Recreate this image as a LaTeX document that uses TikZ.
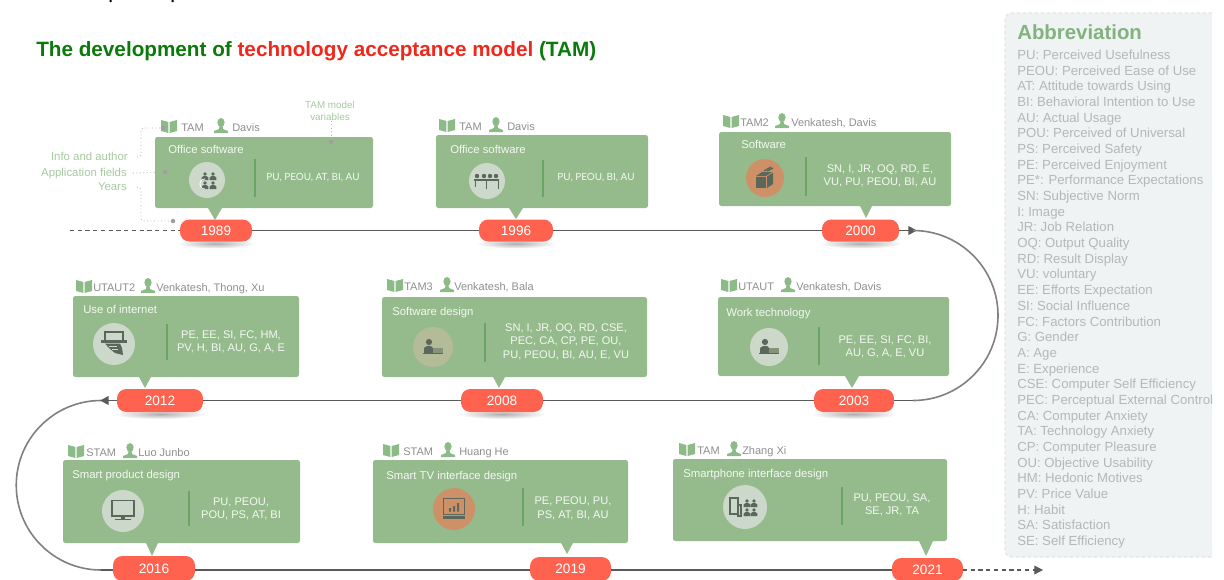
\documentclass[tikz,border=0pt]{standalone}
\usepackage{fontspec}
\setmainfont{Liberation Sans}
\newfontfamily\latofont{Lato}
\usetikzlibrary{arrows.meta}
\definecolor{cardg}{HTML}{95BB8D}
\definecolor{divg}{HTML}{6BA564}
\definecolor{circg}{HTML}{CBD8CA}
\definecolor{circo}{HTML}{CE9167}
\definecolor{circt}{HTML}{B4BB98}
\definecolor{iconc}{HTML}{5C675B}
\definecolor{pillr}{HTML}{FF634F}
\definecolor{headg}{HTML}{8F8F8F}
\definecolor{bookg}{HTML}{8DBB88}
\definecolor{annog}{HTML}{A6CAA0}
\definecolor{abbrg}{HTML}{B7B7B7}
\definecolor{abbrh}{HTML}{84B27F}
\definecolor{panelc}{HTML}{EFF3F3}
\definecolor{paneld}{HTML}{E0E6E4}
\definecolor{cardt}{HTML}{F3F8F1}
\definecolor{titleg}{HTML}{0B7A0B}
\definecolor{titler}{HTML}{F0281C}
\definecolor{linec}{HTML}{5A5A5A}
\definecolor{arcc}{HTML}{808080}
\newcommand\smallp[2]{\fill[iconc] (#1,#2) circle[radius=1.9]; \fill[iconc] (#1-3.4,#2+6) -- (#1-3.4,#2+3.6) -- (#1-1.4,#2+2) -- (#1+1.4,#2+2) -- (#1+3.4,#2+3.6) -- (#1+3.4,#2+6) -- cycle;}
\tikzset{
  x=0.75pt,y=-0.75pt,
  cardbox/.style={draw=none,fill=cardg,rounded corners=1.8pt,inner sep=0pt,outer sep=0pt},
  pill/.style={fill=pillr,rounded corners=7pt,inner sep=0pt,outer sep=0pt,text=white,font=\fontsize{10.2}{12}\selectfont},
  cardlabel/.style={text=cardt,inner sep=0pt,anchor=mid west,yshift=-0.7pt,font=\fontsize{8.5}{10}\selectfont},
  vars/.style={text=cardt,inner sep=0pt,align=center,anchor=center,yshift=-0.6pt,font=\fontsize{8.3}{10.4}\selectfont},
  varslato/.style={text=cardt,inner sep=0pt,align=center,anchor=center,yshift=-1.3pt,font=\latofont\fontsize{7.45}{10}\selectfont},
  hdrtext/.style={text=headg,inner sep=0pt,anchor=mid west,yshift=-0.4pt,font=\fontsize{8.25}{10}\selectfont},
  anno/.style={text=annog,inner sep=0pt,yshift=-0.4pt,font=\fontsize{8.55}{10}\selectfont},
  annoline/.style={draw=headg!70,line width=0.6pt,dotted},
  annodot/.style={fill=black!38,circle,inner sep=0pt,minimum size=3.4pt},
  tline/.style={draw=linec,line width=1.3pt},
  tarc/.style={draw=arcc,line width=1.2pt},
  tdash/.style={draw=linec,line width=0.95pt,dash pattern=on 3.2pt off 2.6pt},
  tip/.style={-{Stealth[length=6.5pt,width=6.5pt,inset=0pt]}},
  divider/.style={draw=divg,line width=1pt},
  shad/.style={inner color=black!32,outer color=white},
  abbr/.style={text=abbrg,inner sep=0pt,anchor=mid west,yshift=-0.7pt,font=\fontsize{9.9}{12}\selectfont},
  bookicon/.pic={\fill[bookg] (-8,-6) -- (-0.6,-4) -- (-0.6,7) -- (-8,5) -- cycle; \fill[bookg] (8,-6) -- (0.6,-4) -- (0.6,7) -- (8,5) -- cycle;},
  personicon/.pic={\fill[bookg] (0,-3.5) ellipse[x radius=3.6,y radius=4.5]; \fill[bookg] (-7,7) -- (-7,5) -- (-2,3) -- (-1.5,0) -- (1.5,0) -- (2,3) -- (7,5) -- (7,7) -- cycle;},
  icomeet/.pic={\smallp{-2}{-6}\smallp{6}{-6}\smallp{-2}{3}\smallp{6}{3}\draw[white,line width=0.6pt] (-2,-1) .. controls (-9,-1) and (-9,9) .. (-2,9);},
  icotable/.pic={\fill[iconc] (-10,-5) circle[radius=2.2] (-3,-5) circle[radius=2.2] (3,-5) circle[radius=2.2] (9,-5) circle[radius=2.2]; \fill[iconc] (-13,-2.5) rectangle (12,-0.5); \draw[iconc,line width=0.7pt] (-1,0) -- (-1,8) (11,0) -- (11,8) (-12,0) -- (-12,6);},
  icobox/.pic={\fill[iconc] (-9,-2) -- (-3,-6) -- (7,-6) -- (1,-2) -- cycle; \fill[iconc] (-9,-1) -- (1,-1) -- (1,10) -- (-9,10) -- cycle; \fill[iconc] (2,-1.5) -- (8,-5.5) -- (8,6) -- (2,10) -- cycle; \draw[iconc,line width=1pt] (-1,-7) -- (6,-11) (2,-7) -- (8,-10);},
  icodesk/.pic={\fill[iconc] (-4,-5) circle[radius=3.1]; \fill[iconc] (-9,6) -- (-9,1) -- (-6,-1) -- (-2,-1) -- (0,1) -- (0,6) -- cycle; \fill[iconc!50!circt] (0,1) rectangle (10,5.5); \fill[iconc] (-10,6) rectangle (10,7.2);},
  icohand/.pic={\draw[iconc,line width=0.8pt] (-9,-3) -- (-9,-12) -- (9,-12) -- (9,-3); \fill[iconc] (-13,-4) rectangle (13,-1.5); \fill[iconc] (-9,-0.5) -- (6,-0.5) -- (8,4) -- (9,11) -- (1,9) -- (-5,4) -- cycle; \fill[circg] (-5,1.5) rectangle (3,2.3);\fill[circg] (-2,4.5) rectangle (4,5.3);},
  icomon/.pic={\draw[iconc,line width=1.1pt] (-11,-10.5) rectangle (11,5); \fill[iconc] (-2,5) rectangle (2,8); \fill[iconc] (-8,8) rectangle (8,9.4);},
  icotv/.pic={\draw[iconc,line width=1.2pt] (-10.5,-10.5) rectangle (10.5,5.5); \fill[iconc] (-5,-1) rectangle (-3,2.5) (-1,-3) rectangle (1,2.5) (3,-6) rectangle (5,2.5); \fill[iconc] (-11,7) rectangle (11,9.5);},
  icophone/.pic={\draw[iconc,line width=0.9pt] (-15,-9) rectangle (-7,7); \draw[iconc,line width=0.9pt] (-6,-2) -- (-4,-2) -- (-4,9) -- (-8,9); \smallp{2}{-6}\smallp{9}{-6}\smallp{2}{3}\smallp{9}{3}}
}
\newcommand\cardbox[8]{\node[cardbox,anchor=north west,minimum width={(#4-#2)*0.75pt},minimum height={(#5-#3)*0.75pt}] (b#1) at (#2,#3) {};
  \node[cardlabel] (l#1) at (#7,#8) {#6};}
\newcommand\cardpoint[4]{\fill[cardg] (#1-#4,#3) -- (#1+#4,#3) -- (#1,#2) -- cycle;}
\newcommand\cardicon[6]{\node[circle,fill=#5,minimum size={2*#4*0.75pt},inner sep=0pt] (c#1) at (#2,#3) {}; \path (c#1.center) pic {#6};}
\newcommand\tamdiv[3]{\draw[divider] (#1,#2) -- (#1,#3);}
\newcommand\cardhead[8]{\path (#2,#3) pic {bookicon}; \node[hdrtext] (m#1) at (#5,#3+1) {#4}; \path (#6,#3) pic {personicon}; \node[hdrtext] (a#1) at (#8,#3+1) {#7};}
\newcommand\yearpill[6]{\shade[shad] ({(#2+#3)/2},#5+#6) ellipse[x radius={(#3-#2)/2+3},y radius=5]; \node[pill,minimum width={(#3-#2)*0.75pt},minimum height={(#5-#4)*0.75pt}] (p#1) at ({(#2+#3)/2},{(#4+#5)/2}) {#1};}
\begin{document}
\begin{tikzpicture}
\useasboundingbox (0,0) rectangle (1224,579);
\fill[white] (0,0) rectangle (1224,579);
% cut-off text at top
\fill[black] (109.5,0) rectangle (111.5,2.2) (171.5,0) rectangle (173.5,2.2);
% title
\node[inner sep=0pt,anchor=mid west,yshift=-3pt,font=\bfseries\fontsize{15.53}{18}\selectfont] (title) at (36,49) {\textcolor{titleg}{The development of }\textcolor{titler}{technology acceptance model }\textcolor{titleg}{(TAM)}};
% abbreviation panel
\draw[fill=panelc,draw=paneld,line width=0.8pt,dash pattern=on 2.5pt off 2pt,rounded corners=5pt] (1212,13) -- (1005,13) -- (1005,557) -- (1212,557);
\node[inner sep=0pt,anchor=mid west,yshift=-3pt,text=abbrh,font=\bfseries\fontsize{15.3}{18}\selectfont] (abbrtitle) at (1017,32) {Abbreviation};
\foreach \i/\t in {0/PU: Perceived Usefulness,1/PEOU: Perceived Ease of Use,2/AT: Attitude towards Using,3/BI: Behavioral Intention to Use,4/AU: Actual Usage,5/POU: Perceived of Universal,6/PS: Perceived Safety,7/PE: Perceived Enjoyment,8/PE*: Performance Expectations,9/SN: Subjective Norm,10/I: Image,11/JR: Job Relation,12/OQ: Output Quality,13/RD: Result Display,14/VU: voluntary,15/EE: Efforts Expectation,16/SI: Social Influence,17/FC: Factors Contribution,18/G: Gender,19/A: Age,20/E: Experience,21/CSE: Computer Self Efficiency,22/PEC: Perceptual External Control,23/CA: Computer Anxiety,24/TA: Technology Anxiety,25/CP: Computer Pleasure,26/OU: Objective Usability,27/HM: Hedonic Motives,28/PV: Price Value,29/H: Habit,30/SA: Satisfaction,31/SE: Self Efficiency}{
  \node[abbr] (abbr\i) at (1017,{55+\i*15.68}) {\t};
}
% pills
\yearpill{1989}{180}{252}{219.5}{241.5}{2}
\yearpill{1996}{479}{553}{219.5}{241.5}{2}
\yearpill{2000}{822}{899}{219.5}{241.5}{2}
\yearpill{2012}{117}{203}{389}{412}{2}
\yearpill{2008}{461}{543}{389}{412}{2}
\yearpill{2003}{814}{894}{389}{412}{2}
\node[pill,minimum width=61.5pt,minimum height=18.75pt] (p2016) at (154,568.5) {2016};
\node[pill,minimum width=60.75pt,minimum height=18pt] (p2019) at (570.5,569) {2019};
\node[pill,minimum width=53.25pt,minimum height=17.25pt] (p2021) at (927.5,569.5) {2021};
% timeline
\coordinate (start) at (70,230.5);
\coordinate (rtop) at (917,230.5);
\coordinate (rbot) at (913,400.5);
\coordinate (ltop) at (100,400.5);
\coordinate (lbot) at (101,570);
\coordinate (finish) at (1043,570);
\draw[tdash] (start) -- (p1989.west);
\draw[tline] (p1989.east) -- (p1996.west);
\draw[tline] (p1996.east) -- (p2000.west);
\draw[tline,tip] (p2000.east) -- (rtop);
\draw[tarc] (rbot) arc[start angle=90,end angle=-90,radius=85];
\draw[tline] (p2003.east) -- (rbot);
\draw[tline] (p2003.west) -- (p2008.east);
\draw[tline] (p2008.west) -- (p2012.east);
\draw[tarc] (lbot) arc[start angle=90,end angle=270,radius=84.75];
\draw[tline,tip] (p2012.west) -- (ltop);
\draw[tline] (lbot) -- (p2016.west |- lbot);
\draw[tline] (p2016.east |- lbot) -- (p2019.west |- lbot);
\draw[tline] (p2019.east |- lbot) -- (p2021.west |- lbot);
\draw[tdash,-{Stealth[length=6.5pt,width=6.5pt,inset=0pt]}] (p2021.east |- finish) -- (finish);
% 1989
\cardbox{1989}{155}{137}{373}{208}{Office software}{168}{149}
\cardpoint{215}{220}{208}{7}
\tamdiv{255}{159}{197}
\cardicon{1989}{207}{180}{18}{circg}{icomeet}
\node[varslato] (v1989) at (313,176) {PU, PEOU, AT, BI, AU};
\cardhead{1989}{169}{126}{TAM}{181}{221}{Davis}{232}
% 1996
\cardbox{1996}{436}{135}{648}{208}{Office software}{450}{149}
\cardpoint{516}{219}{208}{7}
\tamdiv{543}{160}{197}
\cardicon{1996}{487}{181}{18}{circg}{icotable}
\node[varslato] (v1996) at (596,176) {PU, PEOU, BI, AU};
\cardhead{1996}{447}{125}{TAM}{459}{496}{Davis}{507}
% 2000
\cardbox{2000}{719}{132}{951}{206}{Software}{741}{144}
\cardpoint{866}{218}{206}{6}
\tamdiv{806}{157}{196}
\cardicon{2000}{765}{178}{19}{circo}{icobox}
\node[vars] (v2000) at (880,175) {SN, I, JR, OQ, RD, E,\\VU, PU, PEOU, BI, AU};
\cardhead{2000}{731}{121}{TAM2}{740}{782}{Venkatesh, Davis}{791}
% 2003
\cardbox{2003}{718}{297}{949}{376}{Work technology}{726}{312}
\cardpoint{852}{388}{376}{7}
\tamdiv{819}{327}{365}
\cardicon{2003}{769}{347}{19}{circg}{icodesk}
\node[vars] (v2003) at (885,346) {PE, EE, SI, FC, BI,\\AU, G, A, E, VU};
\cardhead{2003}{729}{285}{UTAUT}{738}{788}{Venkatesh, Davis}{796}
% 2008
\cardbox{2008}{382}{297}{647}{377}{Software design}{392}{311}
\cardpoint{499}{388}{377}{6}
\tamdiv{485}{323}{362}
\cardicon{2008}{433}{347}{20}{circt}{icodesk}
\node[vars] (v2008) at (566,341) {SN, I, JR, OQ, RD, CSE,\\PEC, CA, CP, PE, OU,\\PU, PEOU, BI, AU, E, VU};
\cardhead{2008}{395}{285}{TAM3}{404}{447}{Venkatesh, Bala}{454}
% 2012
\cardbox{2012}{73}{296}{299}{377}{Use of internet}{83}{309}
\cardpoint{145}{388}{377}{6}
\tamdiv{167}{324}{360}
\cardicon{2012}{114}{344}{21}{circg}{icohand}
\node[vars] (v2012) at (231,341) {PE, EE, SI, FC, HM,\\PV, H, BI, AU, G, A, E};
\cardhead{2012}{84}{286}{UTAUT2}{93}{148}{Venkatesh, Thong, Xu}{156}
% 2016
\cardbox{2016}{63}{460}{300}{543}{Smart product design}{72}{474}
\cardpoint{152}{556}{543}{6}
\tamdiv{189}{491}{526}
\cardicon{2016}{123}{511}{21}{circg}{icomon}
\node[vars] (v2016) at (241,508) {PU, PEOU,\\POU, PS, AT, BI};
\cardhead{2016}{76}{451}{STAM}{86}{130}{Luo Junbo}{138}
% 2019
\cardbox{2019}{373}{460}{628}{543}{Smart TV interface design}{386}{475}
\cardpoint{567}{554}{543}{6}
\tamdiv{523}{488}{526}
\cardicon{2019}{454}{509}{21}{circo}{icotv}
\node[vars] (v2019) at (573,507.5) {PE, PEOU, PU,\\PS, AT, BI, AU};
\cardhead{2019}{391}{450}{STAM}{403}{448}{Huang He}{459}
% 2021
\cardbox{2021}{673}{459}{947}{541}{Smartphone interface design}{683}{473}
\cardpoint{926}{556}{541}{7}
\tamdiv{842}{487}{525}
\cardicon{2021}{745}{507}{22}{circg}{icophone}
\node[vars] (v2021) at (892,504) {PU, PEOU, SA,\\SE, JR, TA};
\cardhead{2021}{687}{449}{TAM}{697}{734}{Zhang Xi}{742}
% annotations
\node[anno,anchor=mid east] (n1) at (128,156) {Info and author};
\node[anno,anchor=mid east] (n2) at (127,172) {Application fields};
\node[anno,anchor=mid east] (n3) at (127,186) {Years};
\node[anno,align=center,anchor=center,yshift=0.4pt,font=\fontsize{7.4}{9}\selectfont] (n4) at (330,111) {TAM model\\variables};
\node[annodot] (d1) at (163,128) {};
\node[annodot] (d2) at (165,172) {};
\node[annodot] (d3) at (173,221) {};
\node[annodot] (d4) at (331,142) {};
\draw[annoline,rounded corners=2pt] (n1.east) ++(9,1) -- (141,157) -- (141,128) -- (d1.center);
\draw[annoline] (n2.east) ++(6,0) -- (d2.center);
\draw[annoline,rounded corners=2pt] (n3.east) ++(10,1) -- (141,187) -- (141,221) -- (d3.center);
\draw[annoline] (n4.south) ++(1,0) -- (d4.center);
\end{tikzpicture}
\end{document}
